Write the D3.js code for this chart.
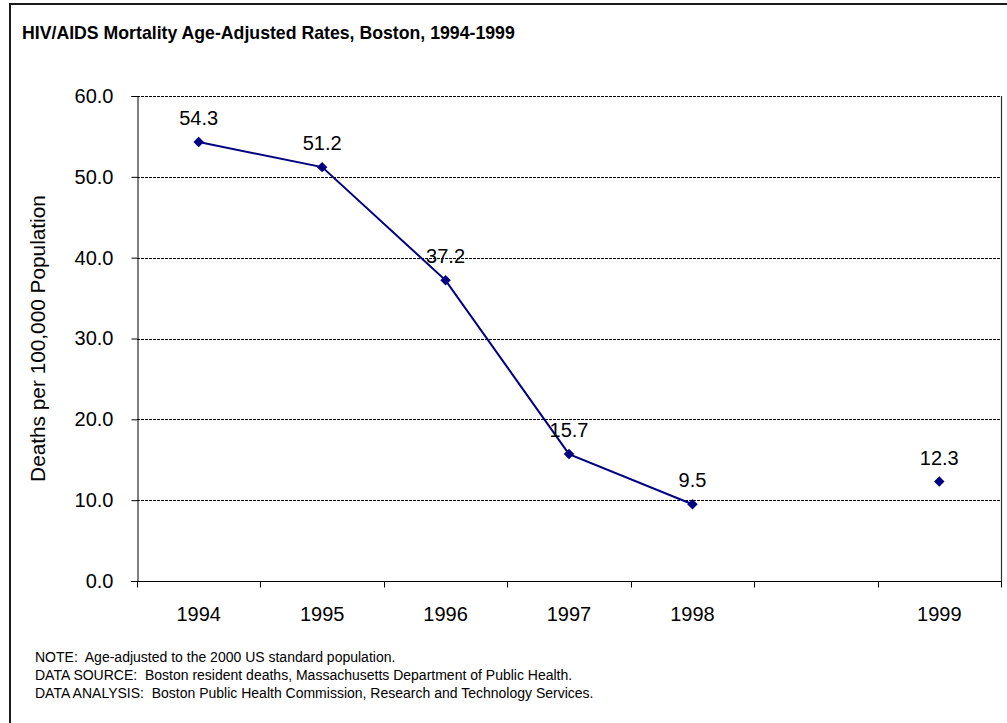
<!DOCTYPE html>
<html>
<head>
<meta charset="utf-8">
<script src="https://cdn.jsdelivr.net/npm/d3@7/dist/d3.min.js"></script>
<style>
  html, body { margin: 0; padding: 0; background: #fff; }
  svg { display: block; font-family: "Liberation Sans", Arial, sans-serif; }
</style>
</head>
<body>
<svg id="chart" width="1007" height="723"></svg>
<script>
// Category slots along the x axis; the blank slot leaves a gap before 1999.
const categories = ["1994", "1995", "1996", "1997", "1998", "", "1999"];
// Age-adjusted HIV/AIDS mortality rate, deaths per 100,000 population.
const rates = [54.3, 51.2, 37.2, 15.7, 9.5, null, 12.3];
const yTicks = [0, 10, 20, 30, 40, 50, 60];
const notes = [
  "NOTE:  Age-adjusted to the 2000 US standard population.",
  "DATA SOURCE:  Boston resident deaths, Massachusetts Department of Public Health.",
  "DATA ANALYSIS:  Boston Public Health Commission, Research and Technology Services."
];

const svg = d3.select("#chart");
const W = 1007, H = 723;
const plot = { left: 137, right: 1001, top: 96, bottom: 581 };
const navy = "#000080";
const labelSize = 20;

// Outer chart frame
svg.append("rect")
  .attr("x", 10).attr("y", 4)
  .attr("width", W + 20).attr("height", H + 20)
  .attr("fill", "none").attr("stroke", "#1a1a1a").attr("stroke-width", 2);

svg.append("text")
  .attr("x", 22).attr("y", 39)
  .attr("font-size", 17.7).attr("font-weight", "bold")
  .attr("fill", "#000")
  .text("HIV/AIDS Mortality Age-Adjusted Rates, Boston, 1994-1999");

const keys = categories.map((c, i) => i);
const x = d3.scaleBand().domain(keys).range([plot.left, plot.right]).padding(0);
const y = d3.scaleLinear().domain([0, 60]).range([plot.bottom, plot.top]);

// Dashed horizontal gridlines
svg.append("g")
  .selectAll("line")
  .data(yTicks.filter(t => t > 0))
  .join("line")
  .attr("x1", plot.left).attr("x2", plot.right)
  .attr("y1", d => Math.round(y(d)) + 0.5).attr("y2", d => Math.round(y(d)) + 0.5)
  .attr("stroke", "#000").attr("stroke-width", 1)
  .attr("stroke-dasharray", "3,1");

// Right edge of plot area
svg.append("line")
  .attr("x1", plot.right + 0.5).attr("x2", plot.right + 0.5)
  .attr("y1", plot.top).attr("y2", plot.bottom)
  .attr("stroke", "#333").attr("stroke-width", 1.2);

// Y axis
const yAxis = svg.append("g")
  .attr("transform", `translate(${plot.left + 0.5},0)`)
  .call(d3.axisLeft(y).tickValues(yTicks).tickFormat(d3.format(".1f"))
    .tickSize(6).tickPadding(18));
yAxis.select(".domain").attr("stroke", "#000");
yAxis.selectAll(".tick line").attr("stroke", "#000");
yAxis.selectAll("text")
  .attr("font-size", labelSize).attr("fill", "#000")
  .attr("font-family", "Liberation Sans, Arial, sans-serif");

// X axis: tick marks sit on category boundaries, labels in band centres
const xAxis = svg.append("g")
  .attr("transform", `translate(0,${plot.bottom + 0.5})`);
xAxis.append("line")
  .attr("x1", plot.left - 6).attr("x2", plot.right + 1)
  .attr("stroke", "#000");
const bounds = keys.map(k => x(k)).concat([plot.right]);
xAxis.selectAll("line.tk")
  .data(bounds)
  .join("line").attr("class", "tk")
  .attr("x1", d => Math.round(d) + 0.5).attr("x2", d => Math.round(d) + 0.5)
  .attr("y1", 0).attr("y2", 6)
  .attr("stroke", "#000");
xAxis.selectAll("text.lbl")
  .data(keys)
  .join("text").attr("class", "lbl")
  .attr("x", k => x(k) + x.bandwidth() / 2)
  .attr("y", 39)
  .attr("text-anchor", "middle")
  .attr("font-size", labelSize).attr("fill", "#000")
  .text(k => categories[k]);

// Y axis title
svg.append("text")
  .attr("transform", `translate(45,${(plot.top + plot.bottom) / 2}) rotate(-90)`)
  .attr("text-anchor", "middle")
  .attr("font-size", 20.8).attr("fill", "#000")
  .text("Deaths per 100,000 Population");

// Series line (broken at the blank slot)
const pts = keys.map(k => ({ k, v: rates[k] }));
const line = d3.line()
  .defined(d => d.v != null)
  .x(d => x(d.k) + x.bandwidth() / 2)
  .y(d => y(d.v));
svg.append("path")
  .datum(pts)
  .attr("d", line)
  .attr("fill", "none").attr("stroke", navy).attr("stroke-width", 2);

// Diamond markers
const diamond = d3.symbol().type(d3.symbolDiamond2).size(70);
svg.append("g")
  .selectAll("path")
  .data(pts.filter(d => d.v != null))
  .join("path")
  .attr("transform", d => `translate(${x(d.k) + x.bandwidth() / 2},${y(d.v)})`)
  .attr("d", diamond)
  .attr("fill", navy);

// Value labels
svg.append("g")
  .selectAll("text")
  .data(pts.filter(d => d.v != null))
  .join("text")
  .attr("x", d => x(d.k) + x.bandwidth() / 2)
  .attr("y", d => y(d.v) - 17)
  .attr("text-anchor", "middle")
  .attr("font-size", labelSize).attr("fill", "#000")
  .text(d => d3.format(".1f")(d.v));

// Footnotes
svg.append("g")
  .selectAll("text")
  .data(notes)
  .join("text")
  .attr("x", 35)
  .attr("y", (d, i) => 662 + i * 18)
  .attr("font-size", 14).attr("fill", "#000")
  .attr("xml:space", "preserve")
  .style("white-space", "pre")
  .text(d => d);
</script>
</body>
</html>
